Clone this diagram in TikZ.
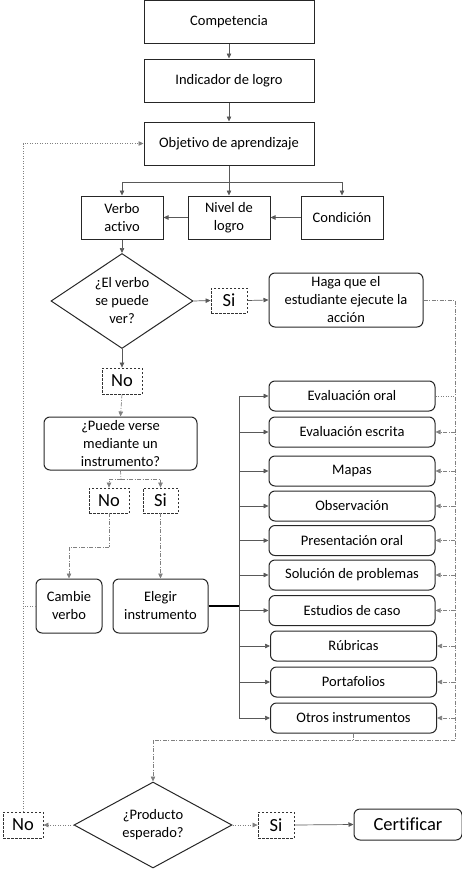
\documentclass[tikz,border=0pt]{standalone}
\usepackage{fontspec}
\setmainfont{Carlito}[Ligatures=NoCommon]
\usetikzlibrary{shapes.geometric,arrows.meta}
\newcommand\mytxt{\fontsize{14.5pt}{18pt}\selectfont}
\newcommand\labtxt{\fontsize{18.5pt}{20pt}\selectfont}
\begin{document}
\begin{tikzpicture}[x=1pt,y=-1pt,
  sq/.style={draw=black!85, line width=1pt, align=center, font=\mytxt, inner sep=2pt},
  rb/.style={sq, rounded corners=6pt},
  lst/.style={rb, minimum width=166pt, minimum height=30pt},
  dec/.style={draw=black!85, line width=1pt, diamond, align=center, font=\mytxt, inner sep=0pt},
  dbox/.style={draw=black!80, line width=0.8pt, dash pattern=on 2.5pt off 1.5pt, font=\labtxt, inner sep=0pt},
  ln/.style={draw=black!65, line width=0.7pt},
  tip/.style={-{Triangle[length=5pt,width=4.5pt]}},
  conn/.style={ln, tip},
  dd/.style={draw=black!50, line width=0.7pt, dash pattern=on 4pt off 1.5pt on 1pt off 1.5pt},
  dt/.style={draw=black!50, line width=0.7pt, dash pattern=on 1pt off 1.5pt}
]
\useasboundingbox (0,0) rectangle (462,870);

% top chain
\node[sq, minimum width=170pt, minimum height=43pt] (comp) at (229,22) {Competencia};
\node[sq, minimum width=170pt, minimum height=43pt] (ind) at (229,80.5) {Indicador de logro};
\node[sq, minimum width=170pt, minimum height=43pt] (obj) at (229,143.5) {Objetivo de aprendizaje};
\node[sq, minimum width=82pt, minimum height=43pt] (verbo) at (122,217.5) {Verbo\\activo};
\node[sq, minimum width=82pt, minimum height=43pt] (nivel) at (229,217.5) {Nivel de\\logro};
\node[sq, minimum width=82pt, minimum height=43pt] (cond) at (342,217.5) {Condición};

% first decision
\node[dec, aspect=1.5, minimum width=142pt, minimum height=95pt] (d1) at (122,301) {¿El verbo\\se puede\\ver?};
\node[dbox, minimum width=36pt, minimum height=25pt] (si1) at (229,300.5) {Si};
\node[rb, minimum width=154pt, minimum height=54pt] (haga) at (346,300) {Haga que el\\estudiante ejecute la\\acción};
\node[dbox, minimum width=40pt, minimum height=26pt] (no1) at (122,381) {No};
\node[rb, minimum width=153pt, minimum height=53pt] (puede) at (120.5,443.5) {¿Puede verse\\mediante un\\instrumento?};
\node[dbox, minimum width=40pt, minimum height=25pt] (no2) at (109,500.5) {No};
\node[dbox, minimum width=35pt, minimum height=25pt] (si2) at (160.5,500.5) {Si};
\node[rb, minimum width=66pt, minimum height=54pt] (cambie) at (69,606) {Cambie\\verbo};
\node[rb, minimum width=95pt, minimum height=54pt] (elegir) at (160.5,606) {Elegir\\instrumento};

% instruments
\node[lst] (l1) at (352,396) {Evaluación oral};
\node[lst] (l2) at (352,432) {Evaluación escrita};
\node[lst] (l3) at (352,471) {Mapas};
\node[lst] (l4) at (352,506) {Observación};
\node[lst] (l5) at (352,540.5) {Presentación oral};
\node[lst] (l6) at (352,575) {Solución de problemas};
\node[lst] (l7) at (352,610.5) {Estudios de caso};
\node[lst] (l8) at (353.5,646) {Rúbricas};
\node[lst] (l9) at (353.5,682) {Portafolios};
\node[lst] (l10) at (353.5,718) {Otros instrumentos};

% second decision
\node[dec, aspect=1.84, minimum width=158pt, minimum height=86pt] (d2) at (153,825) {¿Producto\\esperado?};
\node[dbox, minimum width=40pt, minimum height=26pt] (no3) at (23,825) {No};
\node[dbox, minimum width=36pt, minimum height=26pt] (si3) at (276,825) {Si};
\node[rb, minimum width=108pt, minimum height=31pt, font=\labtxt] (cert) at (408,824.5) {Certificar};

% coordinates
\coordinate (br) at (229,182);
\coordinate (sp) at (121,479);
\coordinate (nb) at (109,547);
\coordinate (tr) at (239,606);
\coordinate (rt) at (455,300);
\coordinate (rbot) at (455,740);
\coordinate (lbot) at (153,740);

% connectors top
\draw[conn] (comp) -- (ind);
\draw[conn] (ind) -- (obj);
\draw[ln] (obj.south) -- (br);
\draw[conn] (br) -| (verbo.north);
\draw[conn] (br) -- (nivel.north);
\draw[conn] (br) -| (cond.north);
\draw[conn] (nivel.west) -- (verbo.east);
\draw[conn] (cond.west) -- (nivel.east);
\draw[conn] (verbo.south) -- (d1.north);
\draw[conn] (d1.east) -- (si1.west);
\draw[conn] (si1.east) -- (haga.west);
\draw[conn] (d1.south) -- (no1.north);
\draw[dd, tip] (no1.south) -- (puede.north);
\draw[dd] (puede.south) -- (sp);
\draw[dd, tip] (sp) -| (no2.north);
\draw[dd, tip] (sp) -| (si2.north);
\draw[dd] (no2.south) -- (nb);
\draw[dd, tip] (nb) -| (cambie.north);
\draw[dd, tip] (si2.south) -- (elegir.north);

% trunk to instruments
\draw[draw=black, line width=1.2pt] (elegir.east) -- (tr);
\foreach \n in {l1,l2,l3,l4,l5,l6,l7,l8,l9,l10}
  \draw[conn] (tr) |- (\n.west);

% right return loop
\draw[dd] (haga.east) -- (rt) -- (rbot) -- (lbot);
\draw[dd, tip] (lbot) -- (d2.north);
\draw[dt] (l1.east) -- (l1.east -| rt);
\foreach \n in {l2,l3,l4,l5,l6,l7,l8,l9,l10}
  \draw[dd, tip] (\n.east -| rt) -- (\n.east);
\draw[dd] (l10.south) -- (l10.south |- rbot);

% bottom
\draw[dt, tip] (d2.west) -- (no3.east);
\draw[dt, tip] (d2.east) -- (si3.west);
\draw[conn] (si3.east) -- (cert.west);
\draw[dt, tip] (no3.north) |- (obj.west);
\draw[dt] (cambie.west) -- (cambie.west -| no3.north);
\end{tikzpicture}
\end{document}
